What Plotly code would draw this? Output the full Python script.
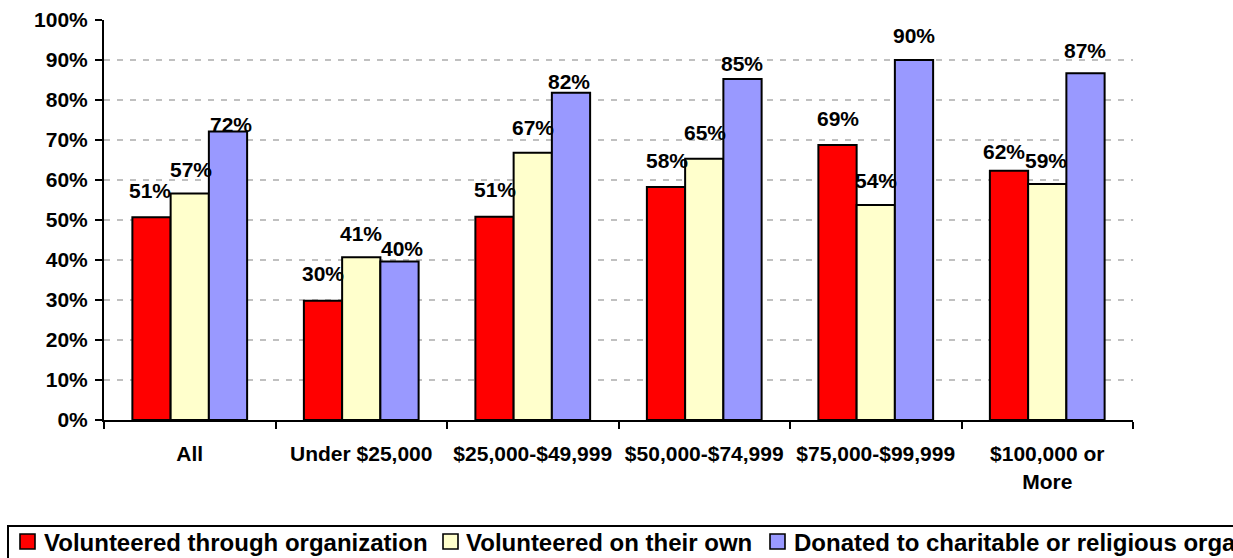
import plotly.graph_objects as go

# ---------------- data ----------------
categories = ["All", "Under $25,000", "$25,000-$49,999", "$50,000-$74,999",
              "$75,000-$99,999", "$100,000 or<br>More"]
series_names = ["Volunteered through organization",
                "Volunteered on their own",
                "Donated to charitable or religious organizations"]
vol_org = [50.7, 29.8, 50.8, 58.25, 68.75, 62.3]
vol_own = [56.6, 40.7, 66.8, 65.3, 53.75, 59.0]
donated = [72.1, 39.6, 81.8, 85.25, 90.0, 86.7]
y_ticks = [0, 10, 20, 30, 40, 50, 60, 70, 80, 90, 100]
y_tick_labels = ["0%", "10%", "20%", "30%", "40%", "50%", "60%", "70%", "80%", "90%", "100%"]

# ---------------- style ----------------
colors = ["#FF0000", "#FFFFCC", "#9999FF"]
FONT = "Liberation Sans, Arial, sans-serif"
W, H = 1233, 558
L, R, T, B = 104, 100, 20, 138
PW, PH = W - L - R, H - T - B
BARGAP = 0.331
bar_px = PW / len(categories) * (1 - BARGAP) / 3

# label offsets (pixels) for each series / category, mimicking the original label placement
lab_dy = [[27, 27, 27, 27, 27, 19],
          [24, 24, 25, 26, 25, 24],
          [7, 13, 11, 16, 25, 23]]
lab_dx = [[-2, 0, 0, 1, 0, -5],
          [1, 0, 0, 1, 0, -1],
          [3, 3, -2, 0, 0, 0]]


def px_x(p):
    return (p - L) / PW


def px_y(p):
    return (T + PH - p) / PH


series = [vol_org, vol_own, donated]

fig = go.Figure()
for name, vals, col in zip(series_names, series, colors):
    fig.add_trace(go.Bar(
        x=categories, y=vals, name=name,
        marker=dict(color=col, line=dict(color="black", width=2)),
        showlegend=False, hoverinfo="skip",
    ))

annotations = []
for si, vals in enumerate(series):
    for ci, (cat, v) in enumerate(zip(categories, vals)):
        annotations.append(dict(
            x=cat, y=v, xref="x", yref="y",
            text=f"{v:.0f}%", showarrow=False,
            xanchor="center", yanchor="middle",
            xshift=(si - 1) * bar_px + lab_dx[si][ci],
            yshift=lab_dy[si][ci],
            font=dict(family=FONT, size=21, color="black", weight="bold"),
        ))

# manual legend (the original's legend box runs past the right and bottom edges)
shapes = [dict(type="rect", xref="paper", yref="paper",
               x0=px_x(8), x1=px_x(1320), y0=px_y(640), y1=px_y(526),
               line=dict(color="black", width=2), fillcolor="rgba(0,0,0,0)")]
sq_left = [20, 443, 770]
txt_left = [42, 464, 792]
for name, col, sx, tx in zip(series_names, colors, sq_left, txt_left):
    shapes.append(dict(type="rect", xref="paper", yref="paper",
                       x0=px_x(sx), x1=px_x(sx + 15), y0=px_y(549), y1=px_y(534),
                       line=dict(color="black", width=1.6), fillcolor=col))
    annotations.append(dict(
        x=px_x(tx), y=px_y(542), xref="paper", yref="paper",
        text=name, showarrow=False, xanchor="left", yanchor="middle",
        font=dict(family=FONT, size=24, color="black", weight="bold"),
    ))

fig.update_layout(
    width=W, height=H, autosize=False,
    margin=dict(l=L, r=R, t=T, b=B, pad=0),
    paper_bgcolor="white", plot_bgcolor="white",
    barmode="group", bargap=BARGAP, bargroupgap=0,
    font=dict(family=FONT, color="black"),
    annotations=annotations, shapes=shapes,
    showlegend=False,
)
fig.update_xaxes(
    type="category", showline=True, linecolor="black", linewidth=2,
    ticks="outside", tickson="boundaries", ticklen=7, tickwidth=2, tickcolor="black",
    tickfont=dict(family=FONT, size=21, color="black", weight="bold"),
    tickangle=0, automargin=False,
    ticklabelstandoff=14, showgrid=False, zeroline=False,
)
fig.update_yaxes(
    range=[0, 100], tickmode="array", tickvals=y_ticks, ticktext=y_tick_labels,
    showline=True, linecolor="black", linewidth=2,
    ticks="outside", ticklen=7, tickwidth=2, tickcolor="black",
    tickfont=dict(family=FONT, size=21, color="black", weight="bold"),
    ticklabelstandoff=3, automargin=False,
    showgrid=True, gridcolor="#C0C0C0", gridwidth=2, griddash="6px,7px",
    zeroline=False,
)

fig.write_html(
    "out.html",
    config={"displayModeBar": False, "staticPlot": True},
    post_script="document.body.style.margin='0';document.body.style.overflow='hidden';",
)
